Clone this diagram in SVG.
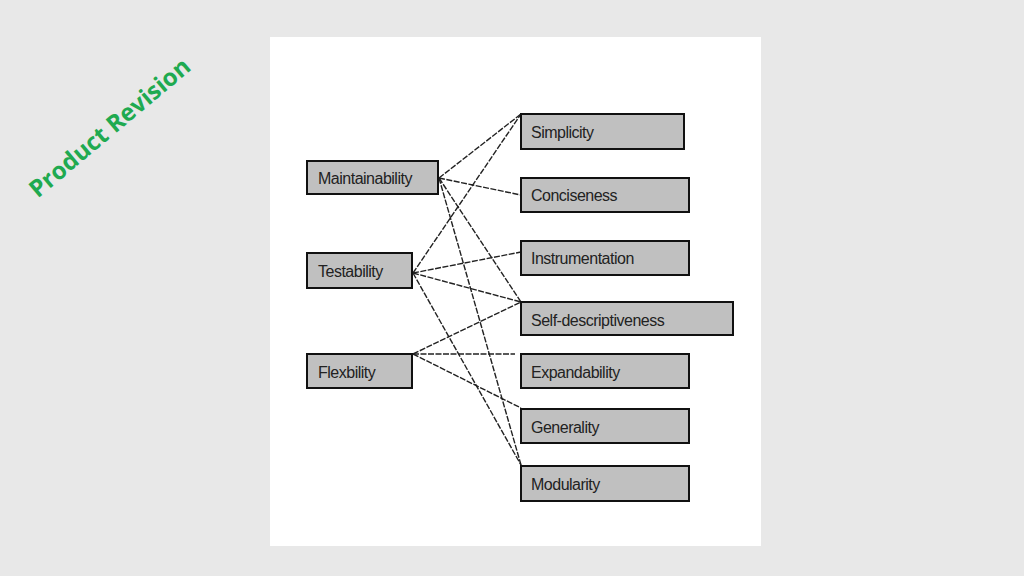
<svg xmlns="http://www.w3.org/2000/svg" width="1024" height="576" viewBox="0 0 1024 576">
<style>
.b{fill:#c0c0c0;stroke:#111;stroke-width:2}
.t{font-family:"Liberation Sans",Arial,sans-serif;font-size:16px;fill:#222;letter-spacing:-0.5px}
#connectors line{stroke:#222;stroke-width:1.4;stroke-dasharray:6 1.5}
</style>
<rect width="1024" height="576" fill="#e8e8e8"/>
<rect x="270" y="37" width="491" height="509" fill="#fff"/>
<text x="115" y="134" transform="rotate(-40 115 134)" text-anchor="middle" style="font-family:'Open Sans',sans-serif;font-weight:bold;font-size:24px;fill:#1faa50">Product Revision</text>
<g id="connectors">
<line x1="439" y1="178" x2="521" y2="114"/>
<line x1="439" y1="178" x2="521" y2="195"/>
<line x1="439" y1="178" x2="521" y2="302"/>
<line x1="439" y1="178" x2="521" y2="465"/>
<line x1="413" y1="273" x2="521" y2="114"/>
<line x1="413" y1="273" x2="521" y2="252"/>
<line x1="413" y1="273" x2="521" y2="302"/>
<line x1="413" y1="273" x2="521" y2="465"/>
<line x1="413" y1="354" x2="521" y2="302"/>
<line x1="413" y1="354" x2="515" y2="354"/>
<line x1="413" y1="354" x2="521" y2="408"/>
</g>
<g id="maintainability"><rect class="b" x="307" y="161" width="131" height="33"/><text class="t" x="318" y="184">Maintainability</text></g>
<g id="testability"><rect class="b" x="307" y="253" width="105" height="35"/><text class="t" x="318" y="277">Testability</text></g>
<g id="flexibility"><rect class="b" x="307" y="354" width="105" height="34"/><text class="t" x="318" y="378">Flexbility</text></g>
<g id="simplicity"><rect class="b" x="521" y="114" width="163" height="35"/><text class="t" x="531" y="138">Simplicity</text></g>
<g id="conciseness"><rect class="b" x="521" y="178" width="168" height="34"/><text class="t" x="531" y="201">Conciseness</text></g>
<g id="instrumentation"><rect class="b" x="521" y="241" width="168" height="34"/><text class="t" x="531" y="264">Instrumentation</text></g>
<g id="selfdescriptiveness"><rect class="b" x="521" y="302" width="212" height="33"/><text class="t" x="531" y="326">Self-descriptiveness</text></g>
<g id="expandability"><rect class="b" x="521" y="354" width="168" height="34"/><text class="t" x="531" y="378">Expandability</text></g>
<g id="generality"><rect class="b" x="521" y="409" width="168" height="34"/><text class="t" x="531" y="433">Generality</text></g>
<g id="modularity"><rect class="b" x="521" y="466" width="168" height="35"/><text class="t" x="531" y="490">Modularity</text></g>
</svg>
